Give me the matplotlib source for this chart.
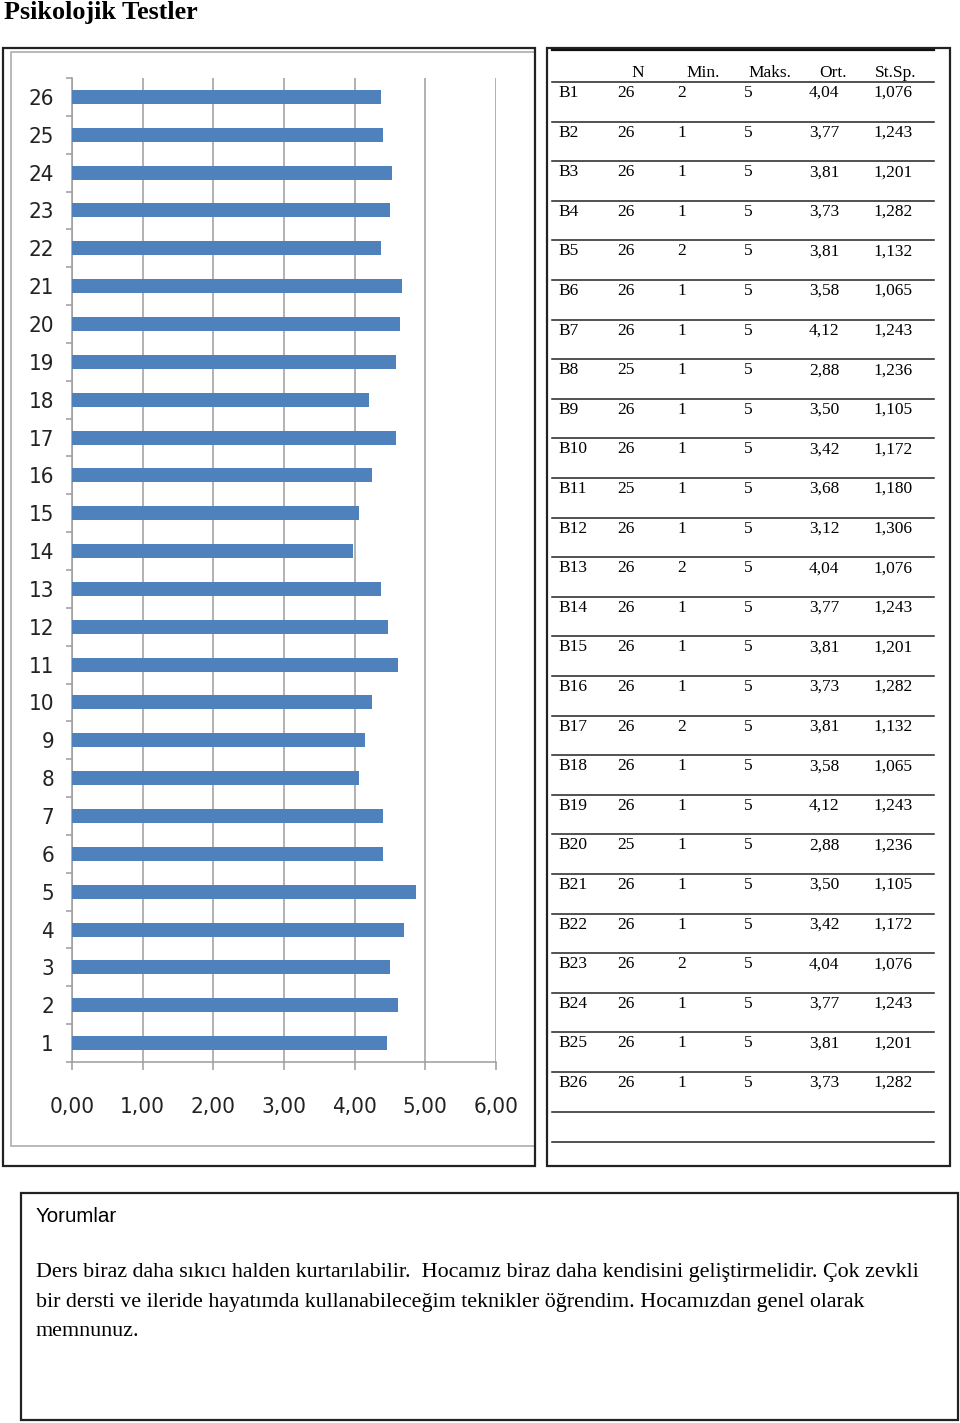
import matplotlib
matplotlib.use("Agg")
import matplotlib.pyplot as plt
from matplotlib.patches import Rectangle
from matplotlib.ticker import FuncFormatter, FixedLocator

# bar chart values (items 1..26)
items = list(range(1, 27))
scores = [4.46, 4.61, 4.50, 4.70, 4.87, 4.40, 4.40, 4.06, 4.14, 4.24,
          4.61, 4.47, 4.37, 3.97, 4.06, 4.24, 4.58, 4.20, 4.58, 4.64,
          4.67, 4.37, 4.50, 4.53, 4.40, 4.37]

# table values
headers = ["N", "Min.", "Maks.", "Ort.", "St.Sp."]
row_names = ["B1", "B2", "B3", "B4", "B5", "B6", "B7", "B8", "B9", "B10",
             "B11", "B12", "B13", "B14", "B15", "B16", "B17", "B18", "B19",
             "B20", "B21", "B22", "B23", "B24", "B25", "B26"]
n_vals = [26, 26, 26, 26, 26, 26, 26, 25, 26, 26, 25, 26, 26,
          26, 26, 26, 26, 26, 26, 25, 26, 26, 26, 26, 26, 26]
min_vals = [2, 1, 1, 1, 2, 1, 1, 1, 1, 1, 1, 1, 2,
            1, 1, 1, 2, 1, 1, 1, 1, 1, 2, 1, 1, 1]
max_vals = [5] * 26
mean_vals = [4.04, 3.77, 3.81, 3.73, 3.81, 3.58, 4.12, 2.88, 3.50, 3.42,
             3.68, 3.12, 4.04, 3.77, 3.81, 3.73, 3.81, 3.58, 4.12, 2.88,
             3.50, 3.42, 4.04, 3.77, 3.81, 3.73]
sd_vals = [1.076, 1.243, 1.201, 1.282, 1.132, 1.065, 1.243, 1.236, 1.105,
           1.172, 1.180, 1.306, 1.076, 1.243, 1.201, 1.282, 1.132, 1.065,
           1.243, 1.236, 1.105, 1.172, 1.076, 1.243, 1.201, 1.282]

title = "Psikolojik Testler"
comment_head = "Yorumlar"
comment_lines = [
    "Ders biraz daha sıkıcı halden kurtarılabilir.  Hocamız biraz daha kendisini geliştirmelidir. Çok zevkli",
    "bir dersti ve ileride hayatımda kullanabileceğim teknikler öğrendim. Hocamızdan genel olarak",
    "memnunuz.",
]

W, H = 960, 1423
BLUE = "#4F81BD"
GRID = "#9d9d9d"
sans = ["DejaVu Sans"]
serif = ["Liberation Serif", "DejaVu Serif"]


def comma(v, nd):
    return f"{v:.{nd}f}".replace(".", ",")


fig = plt.figure(figsize=(W / 100, H / 100), dpi=100)
fig.patch.set_facecolor("white")

# ---- bar chart ----
x0, x1, y0, y1 = 72, 496, 78, 1062
ax = fig.add_axes([x0 / W, 1 - y1 / H, (x1 - x0) / W, (y1 - y0) / H])
pos = list(range(len(items)))
ax.barh(pos, scores, height=0.37, color=BLUE, zorder=3)
ax.set_xlim(0, 6)
ax.set_ylim(-0.5, len(items) - 0.5)
ax.set_xticks(range(7))
ax.xaxis.set_major_formatter(FuncFormatter(lambda v, p: comma(v, 2)))
ax.set_yticks(pos)
ax.set_yticklabels([str(i) for i in items])
ax.yaxis.set_minor_locator(FixedLocator([p - 0.5 for p in range(len(items) + 1)]))
ax.grid(axis="x", color=GRID, linewidth=1.1, zorder=0)
for s in ["top", "right"]:
    ax.spines[s].set_visible(False)
for s in ["left", "bottom"]:
    ax.spines[s].set_color(GRID)
    ax.spines[s].set_linewidth(1.1)
ax.tick_params(axis="x", length=6, width=1.1, color=GRID, pad=19,
               labelsize=16, labelcolor="#222222")
ax.tick_params(axis="y", which="major", length=0, pad=13,
               labelsize=16, labelcolor="#222222")
ax.tick_params(axis="y", which="minor", length=4.5, width=1.1, color=GRID)
for lab in ax.get_xticklabels() + ax.get_yticklabels():
    lab.set_family(sans)
    lab.set_fontstretch("condensed")

# ---- overlay for frames, table and comments ----
ov = fig.add_axes([0, 0, 1, 1], facecolor="none")
ov.set_xlim(0, W)
ov.set_ylim(H, 0)
ov.axis("off")

ov.text(4, 12, title, fontsize=18.8, fontweight="bold", family=serif,
        va="center", ha="left")

# chart frames
ov.add_patch(Rectangle((11, 52), 524, 1094, fill=False, ec="#a6a6a6", lw=1.1))
ov.add_patch(Rectangle((3, 48), 532, 1118, fill=False, ec="#222222", lw=1.6))

# table frame
ov.add_patch(Rectangle((547, 48), 403, 1118, fill=False, ec="#222222", lw=1.6))
ov.plot([552, 934], [50, 50], color="#111111", lw=1.6)

head_x = [638, 703, 770, 833, 896]
col_x = [617, 677, 744, 809, 873]
fs_tab = 12.5
for hx, h in zip(head_x, headers):
    ov.text(hx, 73, h, fontsize=fs_tab, family=serif, ha="center", va="center")

row_h = 39.6
line_top = 82
for i, name in enumerate(row_names):
    ly = line_top + i * row_h
    ov.plot([552, 934], [ly, ly], color="#222222", lw=1.1)
    ty = ly + 11
    vals = [str(n_vals[i]), str(min_vals[i]), str(max_vals[i]),
            comma(mean_vals[i], 2), comma(sd_vals[i], 3)]
    ov.text(558, ty, name, fontsize=fs_tab, family=serif, ha="left", va="center")
    for cx, v in zip(col_x, vals):
        ov.text(cx, ty, v, fontsize=fs_tab, family=serif, ha="left", va="center")
last = line_top + len(row_names) * row_h
ov.plot([552, 934], [last, last], color="#222222", lw=1.1)
ov.plot([552, 934], [last + 30, last + 30], color="#222222", lw=1.1)

# comments box
ov.add_patch(Rectangle((21, 1193), 937, 227, fill=False, ec="#222222", lw=1.6))
ov.text(36, 1216, comment_head, fontsize=14.8, family=["Liberation Sans", "DejaVu Sans"],
        ha="left", va="center")
for k, line in enumerate(comment_lines):
    ov.text(36, 1273 + k * 29, line, fontsize=15.8, family=serif,
            ha="left", va="center")

fig.savefig("out.png", dpi=100, facecolor="white")
